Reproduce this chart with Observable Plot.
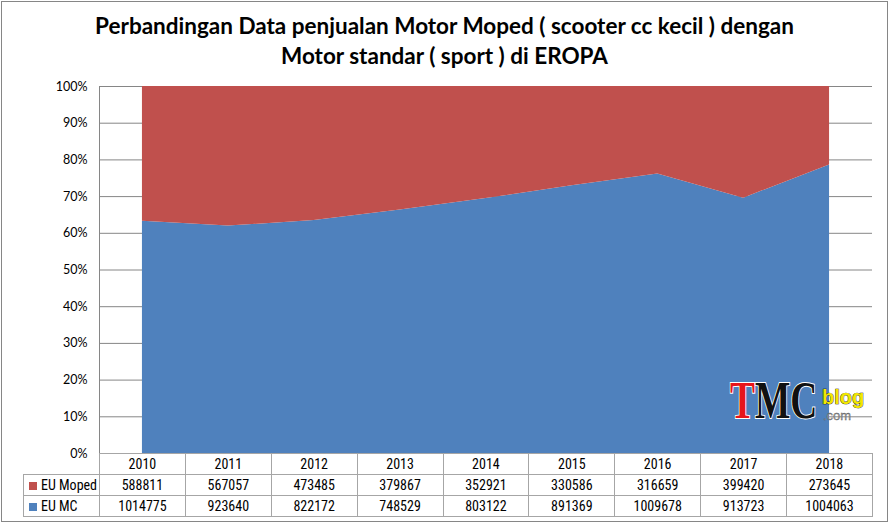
<!DOCTYPE html>
<html>
<head>
<meta charset="utf-8">
<script src="https://cdn.jsdelivr.net/npm/d3@7"></script>
<script src="https://cdn.jsdelivr.net/npm/@observablehq/plot@0.6"></script>
<style>
  html, body { margin: 0; padding: 0; background: #fff; }
  #wrap { position: relative; width: 889px; height: 523px; overflow: hidden; font-family: "Liberation Sans Narrow", "Roboto Condensed", "Noto Sans", sans-serif; }
  #frame { position: absolute; left: 1px; top: 1px; width: 885px; height: 519px; border: 1px solid #868686; box-sizing: content-box; }
  #title { position: absolute; left: 0; top: 11px; width: 889px; text-align: center; font-family: Lato, "Noto Sans", sans-serif; font-weight: bold; font-size: 22.5px; line-height: 30px; color: #000; }
  #chart { position: absolute; left: 0; top: 70px; }
  #tbl { position: absolute; left: 23px; top: 453px; border-collapse: collapse; table-layout: fixed; font-size: 14px; color: #000; }
  #tbl td { border: 1px solid #a6a6a6; text-align: center; padding: 0; height: 20px; white-space: nowrap; }
  #tbl td.lab { text-align: left; padding-left: 5px; }
  #tbl td.blank { border-top: none; border-left: none; }
  .mk { display: inline-block; width: 8px; height: 8px; margin-right: 4px; vertical-align: 0px; }
  #logo { position: absolute; left: 730px; top: 372px; width: 140px; height: 60px; }
  #logo .tmc { position: absolute; left: 0; top: 3px; display: inline-block; white-space: nowrap; font-family: "Liberation Serif", serif; font-weight: bold; font-size: 52px; line-height: 52px; transform: scaleX(0.72); transform-origin: 0 0; paint-order: stroke; -webkit-text-stroke: 2px #fff; }
  #logo .blog { position: absolute; left: 92px; top: 15px; font-family: "Liberation Sans", sans-serif; font-weight: bold; font-size: 20px; line-height: 20px; color: #f2e600; -webkit-text-stroke: 0.7px #000; paint-order: stroke; }
  #logo .com { position: absolute; left: 93px; top: 37px; font-family: "Liberation Sans", sans-serif; font-size: 13px; line-height: 13px; color: #9a9a9a; -webkit-text-stroke: 0.3px #555; }
</style>
</head>
<body>
<div id="wrap">
  <div id="frame"></div>
  <div id="title">Perbandingan Data penjualan Motor Moped ( scooter cc kecil ) dengan<br>Motor standar ( sport ) di EROPA</div>
  <div id="chart"></div>
  <div id="logo"><span class="tmc"><span style="color:#e8141b">T</span><span style="color:#111">MC</span></span><span class="blog">blog</span><span class="com">.com</span></div>
  <table id="tbl"></table>
</div>
<script>
const years = ["2010", "2011", "2012", "2013", "2014", "2015", "2016", "2017", "2018"];
const seriesNames = ["EU Moped", "EU MC"];
const moped = [588811, 567057, 473485, 379867, 352921, 330586, 316659, 399420, 273645];
const mc = [1014775, 923640, 822172, 748529, 803122, 891369, 1009678, 913723, 1004063];
const colors = ["#C0504D", "#4F81BD"];
const yTicks = [0, 0.1, 0.2, 0.3, 0.4, 0.5, 0.6, 0.7, 0.8, 0.9, 1];

const rows = [];
years.forEach((y, i) => {
  rows.push({i, year: y, series: "EU MC", value: mc[i]});
  rows.push({i, year: y, series: "EU Moped", value: moped[i]});
});

const chart = Plot.plot({
  width: 889,
  height: 385,
  marginTop: 16,
  marginBottom: 2,
  marginLeft: 99,
  marginRight: 17,
  style: {fontFamily: "Lato, 'Noto Sans', sans-serif", fontSize: "12.5px", background: "transparent", overflow: "visible"},
  x: {domain: [-0.5, years.length - 0.5], axis: null},
  y: {domain: [0, 1], ticks: yTicks, tickFormat: d3.format(".0%"), label: null, tickSize: 0, tickPadding: 12},
  color: {domain: seriesNames, range: colors},
  marks: [
    Plot.ruleY(yTicks, {stroke: "#868686", strokeWidth: 1}),
    Plot.areaY(rows, Plot.stackY({x: "i", y: "value", z: "series", fill: "series", offset: "normalize", order: ["EU MC", "EU Moped"]})),
    Plot.ruleX([-0.5], {y1: 0, y2: 1, stroke: "#868686"})
  ]
});
document.getElementById("chart").appendChild(chart);

// data table below the chart
const colW = 773 / years.length;
const tbl = document.getElementById("tbl");
let html = `<colgroup><col style="width:76px">${years.map(() => `<col style="width:${colW}px">`).join("")}</colgroup>`;
html += `<tr><td class="blank"></td>${years.map(y => `<td>${y}</td>`).join("")}</tr>`;
const vals = {"EU Moped": moped, "EU MC": mc};
seriesNames.forEach((s, k) => {
  html += `<tr><td class="lab"><span class="mk" style="background:${colors[k]}"></span>${s}</td>${vals[s].map(v => `<td>${v}</td>`).join("")}</tr>`;
});
tbl.innerHTML = html;
</script>
</body>
</html>
